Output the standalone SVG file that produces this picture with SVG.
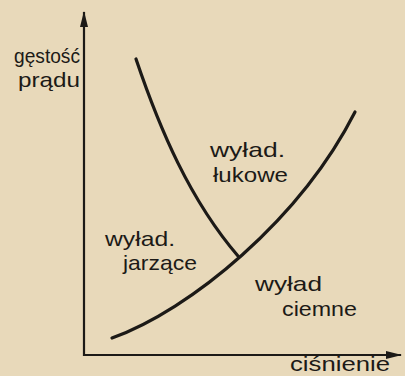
<svg xmlns="http://www.w3.org/2000/svg" width="405" height="376" viewBox="0 0 405 376">
<style>
.t{font-family:"Liberation Sans","DejaVu Sans",sans-serif;font-size:21px;fill:#1c1a17}
.ax{stroke:#1c1a17;stroke-width:2.2;fill:none}
.cv{stroke:#1c1a17;stroke-width:3.2;fill:none;stroke-linecap:round}
</style>
<defs>
<marker id="ah2" viewBox="0 0 16 10" refX="15" refY="5" markerWidth="16" markerHeight="10" markerUnits="userSpaceOnUse" orient="auto">
<path d="M0,1 L16,5 L0,9 Z" fill="#1c1a17"/>
</marker>
</defs>
<rect width="405" height="376" fill="#e8d9ba"/>
<g id="axes">
<line class="ax" x1="84" y1="356" x2="84" y2="12" marker-end="url(#ah2)"/>
<line class="ax" x1="83" y1="355" x2="401" y2="355" marker-end="url(#ah2)"/>
</g>
<g id="connectors">
<path class="cv" d="M136,59 C160,130 190,200 238,256"/>
<path class="cv" d="M112,338 C190,310 300,220 355,112"/>
</g>
<g id="labels">
<text class="t" x="14" y="63" textLength="66" lengthAdjust="spacingAndGlyphs">gęstość</text>
<text class="t" x="18" y="87" textLength="62" lengthAdjust="spacingAndGlyphs">prądu</text>
<text class="t" x="210" y="157" textLength="75" lengthAdjust="spacingAndGlyphs">wyład.</text>
<text class="t" x="213" y="182" textLength="75" lengthAdjust="spacingAndGlyphs">łukowe</text>
<text class="t" x="105" y="246" textLength="70" lengthAdjust="spacingAndGlyphs">wyład.</text>
<text class="t" x="123" y="270" textLength="74" lengthAdjust="spacingAndGlyphs">jarzące</text>
<text class="t" x="255" y="291" textLength="67" lengthAdjust="spacingAndGlyphs">wyład</text>
<text class="t" x="282" y="316" textLength="75" lengthAdjust="spacingAndGlyphs">ciemne</text>
<text class="t" x="290" y="371" textLength="100" lengthAdjust="spacingAndGlyphs">ciśnienie</text>
</g>
</svg>
